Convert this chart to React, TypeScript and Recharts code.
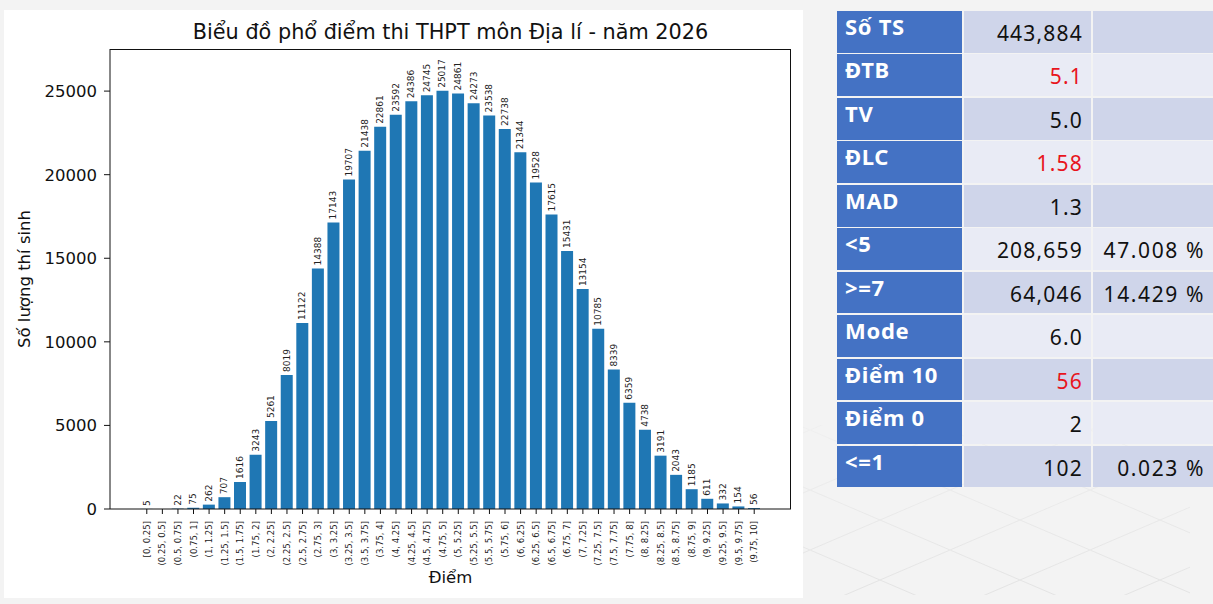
import React from "react";
import { BarChart, Bar, XAxis, YAxis, LabelList } from "recharts";

const binLabels = [
  "[0, 0.25]", "(0.25, 0.5]", "(0.5, 0.75]", "(0.75, 1]", "(1, 1.25]", "(1.25, 1.5]", "(1.5, 1.75]", "(1.75, 2]",
  "(2, 2.25]", "(2.25, 2.5]", "(2.5, 2.75]", "(2.75, 3]", "(3, 3.25]", "(3.25, 3.5]", "(3.5, 3.75]", "(3.75, 4]",
  "(4, 4.25]", "(4.25, 4.5]", "(4.5, 4.75]", "(4.75, 5]", "(5, 5.25]", "(5.25, 5.5]", "(5.5, 5.75]", "(5.75, 6]",
  "(6, 6.25]", "(6.25, 6.5]", "(6.5, 6.75]", "(6.75, 7]", "(7, 7.25]", "(7.25, 7.5]", "(7.5, 7.75]", "(7.75, 8]",
  "(8, 8.25]", "(8.25, 8.5]", "(8.5, 8.75]", "(8.75, 9]", "(9, 9.25]", "(9.25, 9.5]", "(9.5, 9.75]", "(9.75, 10]",
];

const counts = [
  5, 0, 22, 75, 262, 707, 1616, 3243, 5261, 8019,
  11122, 14388, 17143, 19707, 21438, 22861, 23592, 24386, 24745, 25017,
  24861, 24273, 23538, 22738, 21344, 19528, 17615, 15431, 13154, 10785,
  8339, 6359, 4738, 3191, 2043, 1185, 611, 332, 154, 56,
];

const yTicks = [0, 5000, 10000, 15000, 20000, 25000];
const yMax = 27519;

const chartTitle = "Biểu đồ phổ điểm thi THPT môn Địa lí - năm 2026";
const xAxisTitle = "Điểm";
const yAxisTitle = "Số lượng thí sinh";

const statLabels = ["Số TS", "ĐTB", "TV", "ĐLC", "MAD", "<5", ">=7", "Mode", "Điểm 10", "Điểm 0", "<=1"];
const statValues = ["443,884", "5.1", "5.0", "1.58", "1.3", "208,659", "64,046", "6.0", "56", "2", "102"];
const statPercents = ["", "", "", "", "", "47.008 %", "14.429 %", "", "", "", "0.023 %"];
const statRed = [false, true, false, true, false, false, false, false, true, false, false];

const data = binLabels.map((bin, i) => ({ bin, count: counts[i] }));

const CHART_FONT = "'DejaVu Sans', sans-serif";
const TABLE_FONT = "'Noto Sans', sans-serif";

const CHART_W = 799;
const CHART_H = 588;
const M_TOP = 39;
const M_RIGHT = 12;
const Y_AXIS_W = 106;
const X_AXIS_H = 89;

const XTick = (props: any) => {
  const { x, y, payload } = props;
  return (
    <text
      x={x}
      y={y}
      transform={`rotate(-90 ${x} ${y})`}
      textAnchor="end"
      dominantBaseline="central"
      fontSize={8.5}
      fill="#222"
      fontFamily={CHART_FONT}
    >
      {payload.value}
    </text>
  );
};

const BarValueLabel = (props: any) => {
  const { x, y, width, value } = props;
  const cx = Number(x) + Number(width) / 2;
  const cy = Number(y) - 3;
  return (
    <text
      x={cx}
      y={cy}
      transform={`rotate(-90 ${cx} ${cy})`}
      textAnchor="start"
      dominantBaseline="central"
      fontSize={9}
      fill="#222"
      fontFamily={CHART_FONT}
    >
      {value}
    </text>
  );
};

const ROW_TOP = 11;
const ROW_H = 43.45;
const cols = [
  { left: 837, width: 125 },
  { left: 964, width: 127 },
  { left: 1093, width: 120 },
];

function StatTable() {
  return (
    <>
      {statLabels.map((lab, i) => {
        const top = ROW_TOP + i * ROW_H;
        const h = ROW_H - 1.7;
        const bg = i % 2 === 0 ? "#cfd5ea" : "#e9ebf5";
        return (
          <React.Fragment key={lab}>
            <div
              style={{
                position: "absolute",
                left: cols[0].left,
                top,
                width: cols[0].width,
                height: h,
                background: "#4472c4",
              }}
            >
              <div
                style={{
                  position: "absolute",
                  left: 8,
                  top: 2,
                  fontFamily: TABLE_FONT,
                  fontWeight: 700,
                  fontSize: 22,
                  lineHeight: "26px",
                  color: "#fff",
                  letterSpacing: 0.7,
                  whiteSpace: "nowrap",
                }}
              >
                {lab}
              </div>
            </div>
            <div
              style={{
                position: "absolute",
                left: cols[1].left,
                top,
                width: cols[1].width,
                height: h,
                background: bg,
              }}
            >
              <div
                style={{
                  position: "absolute",
                  right: 8,
                  top: 9,
                  fontFamily: TABLE_FONT,
                  fontSize: 21,
                  lineHeight: "26px",
                  color: statRed[i] ? "#e8141c" : "#111",
                  letterSpacing: 1.2,
                  whiteSpace: "nowrap",
                }}
              >
                {statValues[i]}
              </div>
            </div>
            <div
              style={{
                position: "absolute",
                left: cols[2].left,
                top,
                width: cols[2].width,
                height: h,
                background: bg,
              }}
            >
              <div
                style={{
                  position: "absolute",
                  right: 8,
                  top: 9,
                  fontFamily: TABLE_FONT,
                  fontSize: 21,
                  lineHeight: "26px",
                  color: "#111",
                  letterSpacing: 1.6,
                  whiteSpace: "nowrap",
                }}
              >
                {statPercents[i]}
              </div>
            </div>
          </React.Fragment>
        );
      })}
    </>
  );
}

function Backdrop() {
  return (
    <svg
      width={420}
      height={170}
      style={{ position: "absolute", left: 800, top: 425 }}
    >
      <defs>
        <pattern id="diam" width="140" height="60" patternUnits="userSpaceOnUse" x="10" y="5">
          <path d="M0 0 L140 60 M0 60 L140 0" stroke="#e3e3e3" strokeWidth="1" fill="none" />
        </pattern>
        <linearGradient id="fade" x1="0" y1="0" x2="0" y2="1">
          <stop offset="0" stopColor="#fff" stopOpacity="0.2" />
          <stop offset="1" stopColor="#fff" stopOpacity="1" />
        </linearGradient>
        <mask id="m">
          <rect x="0" y="0" width="390" height="170" fill="url(#fade)" />
        </mask>
      </defs>
      <rect x="0" y="0" width="390" height="170" fill="url(#diam)" mask="url(#m)" />
    </svg>
  );
}

export default function App() {
  return (
    <div
      style={{
        position: "absolute",
        left: 0,
        top: 0,
        width: 1213,
        height: 604,
        background: "#f3f3f3",
        overflow: "hidden",
      }}
    >
      <Backdrop />
      <div
        style={{
          position: "absolute",
          left: 4,
          top: 10,
          width: CHART_W,
          height: CHART_H,
          background: "#fff",
        }}
      >
        <BarChart
          width={CHART_W}
          height={CHART_H}
          data={data}
          margin={{ top: M_TOP, right: M_RIGHT, bottom: 0, left: 0 }}
        >
          <XAxis
            dataKey="bin"
            interval={0}
            height={X_AXIS_H}
            padding={{ left: 29, right: 29 }}
            tick={<XTick />}
            tickSize={5}
            tickMargin={7}
            axisLine={{ stroke: "#111", strokeWidth: 1 }}
            tickLine={{ stroke: "#111" }}
          />
          <YAxis
            width={Y_AXIS_W}
            domain={[0, yMax]}
            ticks={yTicks}
            allowDataOverflow
            tickSize={6}
            tickMargin={7}
            tick={{ fontSize: 16.5, fill: "#111", fontFamily: CHART_FONT }}
            axisLine={{ stroke: "#111", strokeWidth: 1 }}
            tickLine={{ stroke: "#111" }}
          />
          <Bar dataKey="count" fill="#1f77b4" barCategoryGap="10%" isAnimationActive={false}>
            <LabelList dataKey="count" content={<BarValueLabel />} />
          </Bar>
        </BarChart>
        {/* plot frame (top and right spines) */}
        <div
          style={{
            position: "absolute",
            left: Y_AXIS_W,
            top: M_TOP,
            width: CHART_W - Y_AXIS_W - M_RIGHT,
            height: CHART_H - M_TOP - X_AXIS_H,
            borderTop: "1px solid #111",
            borderRight: "1px solid #111",
            boxSizing: "border-box",
            pointerEvents: "none",
          }}
        />
        <div
          style={{
            position: "absolute",
            left: 446.5,
            top: 10,
            transform: "translateX(-50%)",
            fontFamily: CHART_FONT,
            fontSize: 20.8,
            lineHeight: "24px",
            color: "#111",
            whiteSpace: "nowrap",
          }}
        >
          {chartTitle}
        </div>
        <div
          style={{
            position: "absolute",
            left: 446.5,
            top: 558,
            transform: "translateX(-50%)",
            fontFamily: CHART_FONT,
            fontSize: 16.5,
            lineHeight: "20px",
            color: "#111",
            whiteSpace: "nowrap",
          }}
        >
          {xAxisTitle}
        </div>
        <div
          style={{
            position: "absolute",
            left: 21,
            top: 269,
            transform: "translate(-50%, -50%) rotate(-90deg)",
            fontFamily: CHART_FONT,
            fontSize: 16.5,
            lineHeight: "20px",
            color: "#111",
            whiteSpace: "nowrap",
          }}
        >
          {yAxisTitle}
        </div>
      </div>
      <StatTable />
    </div>
  );
}
